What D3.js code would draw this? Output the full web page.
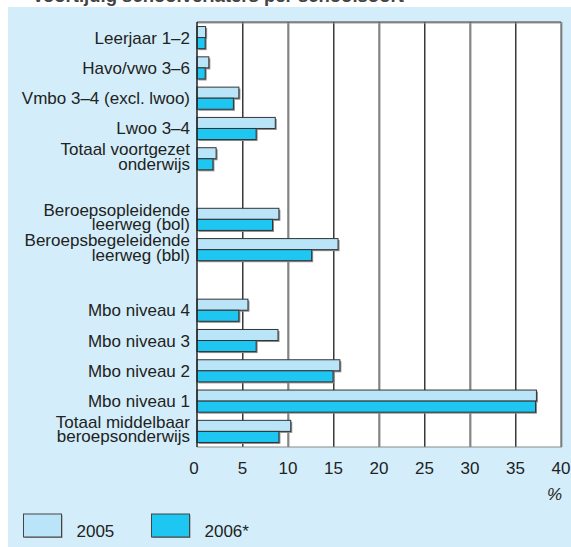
<!DOCTYPE html>
<html><head><meta charset="utf-8">
<script src="https://cdn.jsdelivr.net/npm/d3@7"></script>
<style>
html,body{margin:0;padding:0;background:#fff;}
svg{display:block;font-family:"Liberation Sans",Arial,sans-serif;}
</style></head>
<body>
<script>
const categories = [
  ["Leerjaar 1–2"],
  ["Havo/vwo 3–6"],
  ["Vmbo 3–4 (excl. lwoo)"],
  ["Lwoo 3–4"],
  ["Totaal voortgezet","onderwijs"],
  [],
  ["Beroepsopleidende","leerweg (bol)"],
  ["Beroepsbegeleidende","leerweg (bbl)"],
  [],
  ["Mbo niveau 4"],
  ["Mbo niveau 3"],
  ["Mbo niveau 2"],
  ["Mbo niveau 1"],
  ["Totaal middelbaar","beroepsonderwijs"]
];
const values2005 = [0.95, 1.3, 4.6, 8.6, 2.1, null, 9.0, 15.5, null, 5.6, 8.9, 15.7, 37.3, 10.3];
const values2006 = [0.9, 0.9, 4.0, 6.5, 1.75, null, 8.3, 12.6, null, 4.6, 6.5, 14.95, 37.2, 9.0];
const xTicks = [0,5,10,15,20,25,30,35,40];
const seriesNames = ["2005","2006*"];
const unitLabel = "%";
const titleText = "Voortijdig schoolverlaters per schoolsoort";

(function(){
const W = 571, H = 547;
const col2005 = "#bae5f8", col2006 = "#1ec6f2", panel = "#d3eefa", ink = "#222";
const svg = d3.select("body").append("svg").attr("width", W).attr("height", H);

// title (clipped at top)
svg.append("text").attr("x", 32).attr("y", 1.5).attr("font-size", 18.5).attr("font-weight", "bold")
  .attr("fill", "#444").text(titleText);

// panel background
svg.append("rect").attr("x", 8).attr("y", 7).attr("width", W - 8).attr("height", H - 7).attr("fill", panel);

const x = d3.scaleLinear().domain([0, 40]).range([197, 561]);
const idx = categories.map((d, i) => i);
const y = d3.scaleBand().domain(idx).range([22, 447]).paddingInner(0.27).paddingOuter(0.15);
const plotTop = 22, plotBottom = 447;

// plot area
svg.append("rect").attr("x", x(0)).attr("y", plotTop).attr("width", x(40) - x(0)).attr("height", plotBottom - plotTop).attr("fill", "#fff");

// gridlines
const gridG = svg.append("g");
xTicks.filter(t => t > 0).forEach(t => {
  gridG.append("line").attr("x1", x(t) + 1).attr("x2", x(t) + 1).attr("y1", plotTop).attr("y2", plotBottom).attr("stroke", "#9a9a9a").attr("stroke-width", 1);
  gridG.append("line").attr("x1", x(t)).attr("x2", x(t)).attr("y1", plotTop).attr("y2", plotBottom).attr("stroke", "#3a3a3a").attr("stroke-width", 1);
});
// top and bottom borders
svg.append("line").attr("x1", x(0)).attr("x2", x(40) + 1).attr("y1", plotTop + 1).attr("y2", plotTop + 1).attr("stroke", "#9a9a9a");
svg.append("line").attr("x1", x(0)).attr("x2", x(40)).attr("y1", plotTop).attr("y2", plotTop).attr("stroke", "#3a3a3a");
svg.append("line").attr("x1", x(0)).attr("x2", x(40) + 1).attr("y1", plotBottom).attr("y2", plotBottom).attr("stroke", "#8a8a8a").attr("stroke-width", 1.2);

// bars
const bh = y.bandwidth() / 2;
const barG = svg.append("g");
function drawBars(vals, off, fill) {
  vals.forEach((v, i) => {
    if (v == null) return;
    const y0 = y(i) + off;
    barG.append("rect").attr("x", x(0) + 1.5).attr("y", y0 + 1.5).attr("width", x(v) - x(0)).attr("height", bh)
      .attr("fill", "#8c8c8c");
    barG.append("rect").attr("x", x(0)).attr("y", y0).attr("width", x(v) - x(0)).attr("height", bh)
      .attr("fill", fill).attr("stroke", "#333").attr("stroke-width", 1);
  });
}
drawBars(values2005, 0, col2005);
drawBars(values2006, bh, col2006);

// left axis line
svg.append("line").attr("x1", x(0)).attr("x2", x(0)).attr("y1", plotTop).attr("y2", plotBottom).attr("stroke", "#222").attr("stroke-width", 1.5);

// category labels
const labG = svg.append("g").attr("font-size", 17).attr("fill", ink).attr("text-anchor", "end");
categories.forEach((lines, i) => {
  if (!lines.length) return;
  const c = y(i) + y.bandwidth() / 2;
  if (lines.length === 1) {
    labG.append("text").attr("x", 190).attr("y", c + 6).text(lines[0]);
  } else {
    labG.append("text").attr("x", 190).attr("y", c - 3.5).text(lines[0]);
    labG.append("text").attr("x", 190).attr("y", c + 11).text(lines[1]);
  }
});

// x axis tick labels
const axG = svg.append("g").attr("font-size", 17).attr("fill", ink).attr("text-anchor", "middle");
xTicks.forEach(t => {
  axG.append("text").attr("x", x(t) - (t === 0 ? 3 : 0)).attr("y", 474).text(t);
});
svg.append("text").attr("x", 562).attr("y", 500).attr("text-anchor", "end").attr("font-size", 17)
  .attr("font-style", "italic").attr("fill", ink).text(unitLabel);

// legend
const legX = [23.5, 151.5];
[col2005, col2006].forEach((c, i) => {
  svg.append("rect").attr("x", legX[i] + 1).attr("y", 515).attr("width", 38).attr("height", 23).attr("fill", "#8c8c8c");
  svg.append("rect").attr("x", legX[i]).attr("y", 514).attr("width", 38).attr("height", 23)
    .attr("fill", c).attr("stroke", "#444").attr("stroke-width", 1);
  svg.append("text").attr("x", legX[i] + 53).attr("y", 537).attr("font-size", 17).attr("fill", ink).text(seriesNames[i]);
});
})();
</script>
</body></html>
